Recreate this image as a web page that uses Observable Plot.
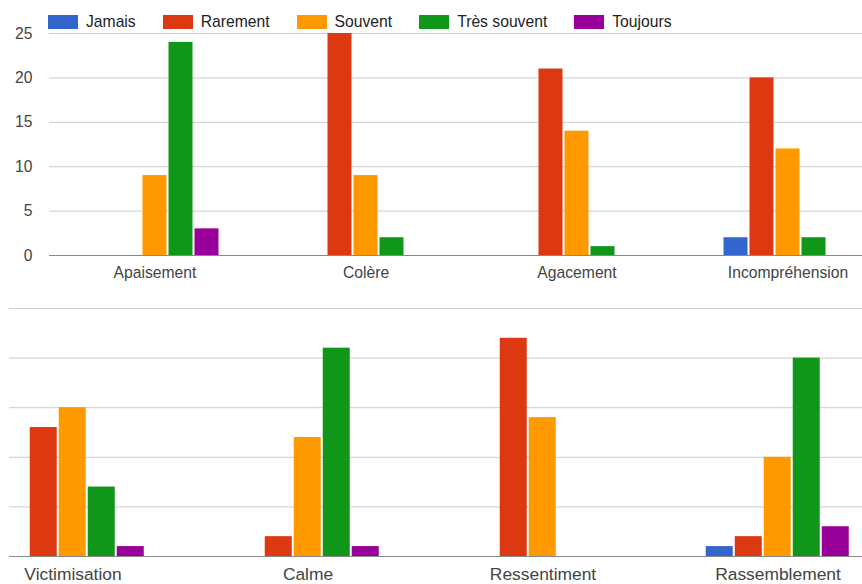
<!DOCTYPE html>
<html>
<head>
<meta charset="utf-8">
<script src="https://cdn.jsdelivr.net/npm/d3@7"></script>
<script src="https://cdn.jsdelivr.net/npm/@observablehq/plot@0.6"></script>
<style>
  html, body { margin: 0; padding: 0; background: #fff; }
  #root { position: relative; width: 862px; height: 584px; overflow: hidden; background: #fff;
          font-family: "Liberation Sans", Arial, sans-serif; }
  #topWrap { position: absolute; left: 0; top: 0; width: 862px; height: 290px; overflow: hidden; }
  #botWrap { position: absolute; left: 9px; top: 290px; width: 853px; height: 294px; overflow: hidden; }
  #topWrap svg { position: absolute; left: 0; top: 0; max-width: none !important; }
  #botWrap svg { position: absolute; left: -60px; top: 0; max-width: none !important; }
  #legend { position: absolute; left: 48px; top: 15px; height: 14px; display: flex; align-items: center;
            gap: 27px; font-size: 15.7px; color: #222; z-index: 2; }
  #legend .item { display: flex; align-items: center; white-space: nowrap; }
  #legend .sw { width: 30px; height: 14px; margin-right: 8px; }
</style>
</head>
<body>
<div id="root">
  <div id="topWrap"></div>
  <div id="botWrap"></div>
  <div id="legend"></div>
</div>
<script>
// ---- data ----
const series = ["Jamais", "Rarement", "Souvent", "Très souvent", "Toujours"];
const seriesColors = ["#3366cc", "#dc3912", "#ff9900", "#109618", "#990099"];

const topCategories = ["Apaisement", "Colère", "Agacement", "Incompréhension"];
const bottomCategories = ["Victimisation", "Calme", "Ressentiment", "Rassemblement"];

// values in series order: Jamais, Rarement, Souvent, Très souvent, Toujours
const apaisement      = [0, 0, 9, 24, 3];
const colere          = [0, 25, 9, 2, 0];
const agacement       = [0, 21, 14, 1, 0];
const incomprehension = [2, 20, 12, 2, 0];
const victimisation   = [0, 13, 15, 7, 1];
const calme           = [0, 2, 12, 21, 1];
const ressentiment    = [0, 22, 14, 0, 0];
const rassemblement   = [1, 2, 10, 20, 3];

const yTicks = [0, 5, 10, 15, 20, 25];

// ---- build tables ----
function rows(cats, vals) {
  return cats.flatMap((c, i) => series.map((s, j) => ({category: c, series: s, value: vals[i][j]})));
}
const topRows = rows(topCategories, [apaisement, colere, agacement, incomprehension]);
const bottomRows = rows(bottomCategories, [victimisation, calme, ressentiment, rassemblement]);

const font = "'Liberation Sans', Arial, sans-serif";

// ---- legend ----
const legend = document.getElementById("legend");
series.forEach((s, i) => {
  const item = document.createElement("div");
  item.className = "item";
  const sw = document.createElement("span");
  sw.className = "sw";
  sw.style.background = seriesColors[i];
  const t = document.createElement("span");
  t.textContent = s;
  item.appendChild(sw);
  item.appendChild(t);
  legend.appendChild(item);
});

// ---- top chart ----
const topChart = Plot.plot({
  width: 893,
  height: 290,
  marginLeft: 48.5,
  marginRight: 0.5,
  marginTop: 33,
  marginBottom: 35,
  style: {fontFamily: font, fontSize: "15.7px", color: "#444", background: "transparent", overflow: "visible", maxWidth: "none"},
  fx: {domain: topCategories, padding: 0, label: null, axis: "bottom", tickSize: 0, tickPadding: 11},
  x: {domain: series, axis: null, paddingInner: 0.075, paddingOuter: 1.52},
  y: {domain: [0, 25]},
  color: {domain: series, range: seriesColors},
  marks: [
    Plot.gridY(yTicks, {stroke: "#ccc", strokeOpacity: 1}),
    Plot.axisY(yTicks, {tickSize: 0, tickPadding: 17, label: null, fill: "#444"}),
    Plot.barY(topRows, {fx: "category", x: "series", y: "value", fill: "series"}),
    Plot.ruleY([0], {stroke: "#888"})
  ]
});
document.getElementById("topWrap").appendChild(topChart);

// ---- bottom chart ----
const bottomChart = Plot.plot({
  width: 948,
  height: 310,
  marginLeft: 5.25,
  marginRight: 0.75,
  marginTop: 18,
  marginBottom: 44,
  style: {fontFamily: font, fontSize: "17.4px", color: "#444", background: "transparent", overflow: "visible", maxWidth: "none"},
  fx: {domain: bottomCategories, padding: 0, label: null, axis: "bottom", tickSize: 0, tickPadding: 11.5},
  x: {domain: series, axis: null, paddingInner: 0.06, paddingOuter: 1.56},
  y: {domain: [0, 25], axis: null},
  color: {domain: series, range: seriesColors},
  marks: [
    Plot.gridY(yTicks, {stroke: "#ccc", strokeOpacity: 1}),
    Plot.barY(bottomRows, {fx: "category", x: "series", y: "value", fill: "series"}),
    Plot.ruleY([0], {stroke: "#888"})
  ]
});
document.getElementById("botWrap").appendChild(bottomChart);
</script>
</body>
</html>
